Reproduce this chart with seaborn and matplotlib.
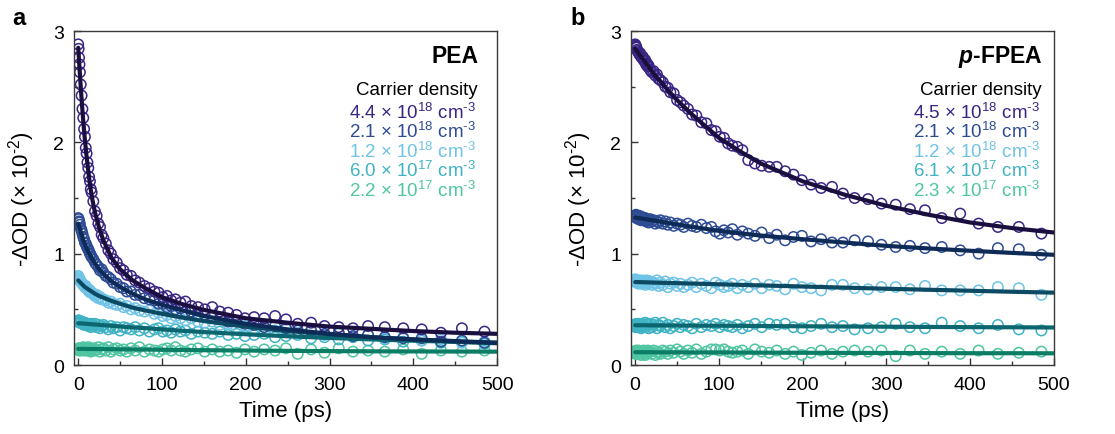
import numpy as np
import pandas as pd
import matplotlib
matplotlib.use("Agg")
import matplotlib.pyplot as plt
from matplotlib.ticker import MultipleLocator
import seaborn as sns

# ---------------- data ----------------
T = [0, 0.5, 1, 1.5, 2,
     3, 4, 5, 6, 7, 8, 9, 10,
     11, 12, 13, 14, 15, 16,
     18, 20, 22, 24, 26, 28, 30,
     33, 36, 39, 42, 46, 50, 54, 58,
     63, 68, 73, 79, 85, 91,
     96, 101, 106, 111, 116,
     122, 128, 135, 143, 151,
     160, 169, 179, 189, 199,
     210, 222, 235, 248, 262,
     278, 294, 311, 328, 346,
     366, 388, 410, 433, 458, 485]

# Panel a (PEA) measured points
pea_44e18 = [2.88, 2.84, 2.76, 2.70, 2.63,
             2.52, 2.42, 2.30, 2.22, 2.12, 2.05, 1.95, 1.90,
             1.82, 1.77, 1.69, 1.65, 1.58, 1.55,
             1.47, 1.38, 1.34, 1.27, 1.24, 1.17, 1.14,
             1.09, 1.03, 1.00, 0.95, 0.92, 0.87, 0.85, 0.81,
             0.80, 0.76, 0.74, 0.71, 0.69, 0.66,
             0.65, 0.61, 0.62, 0.58, 0.59,
             0.56, 0.57, 0.53, 0.52, 0.50,
             0.52, 0.48, 0.47, 0.45, 0.42,
             0.43, 0.42, 0.44, 0.41, 0.37,
             0.38, 0.35, 0.34, 0.33, 0.35,
             0.34, 0.33, 0.32, 0.29, 0.33, 0.30]
pea_21e18 = [1.32, 1.31, 1.29, 1.28, 1.26,
             1.23, 1.21, 1.18, 1.15, 1.13, 1.10, 1.09, 1.07,
             1.05, 1.04, 1.02, 1.00, 0.99, 0.97,
             0.95, 0.92, 0.90, 0.88, 0.85, 0.86, 0.83,
             0.80, 0.79, 0.77, 0.74, 0.73, 0.70, 0.69, 0.66,
             0.66, 0.63, 0.63, 0.60, 0.59, 0.58,
             0.55, 0.55, 0.52, 0.53, 0.50,
             0.51, 0.48, 0.48, 0.45, 0.45,
             0.43, 0.42, 0.39, 0.39, 0.37,
             0.36, 0.34, 0.35, 0.33, 0.31,
             0.31, 0.28, 0.29, 0.26, 0.27,
             0.25, 0.24, 0.24, 0.21, 0.22, 0.20]
pea_12e18 = [0.80, 0.79, 0.78, 0.77, 0.76,
             0.75, 0.74, 0.73, 0.72, 0.71, 0.70, 0.71, 0.69,
             0.68, 0.68, 0.66, 0.67, 0.65, 0.65,
             0.64, 0.62, 0.63, 0.60, 0.61, 0.59, 0.59,
             0.58, 0.56, 0.57, 0.55, 0.54, 0.55, 0.52, 0.53,
             0.50, 0.51, 0.49, 0.48, 0.49, 0.46,
             0.47, 0.44, 0.45, 0.42, 0.44,
             0.42, 0.40, 0.42, 0.39, 0.38,
             0.39, 0.36, 0.37, 0.34, 0.35,
             0.33, 0.34, 0.31, 0.32, 0.29,
             0.30, 0.27, 0.28, 0.26, 0.27,
             0.24, 0.25, 0.22, 0.23, 0.20, 0.21]
pea_60e17 = [0.40, 0.39, 0.40, 0.38, 0.39,
             0.38, 0.39, 0.37, 0.38, 0.36, 0.38, 0.37, 0.36,
             0.37, 0.35, 0.37, 0.36, 0.34, 0.37,
             0.35, 0.37, 0.34, 0.36, 0.33, 0.35, 0.36,
             0.34, 0.32, 0.35, 0.33, 0.34, 0.31, 0.34, 0.33,
             0.32, 0.34, 0.31, 0.33, 0.30, 0.32,
             0.33, 0.30, 0.31, 0.29, 0.32,
             0.30, 0.31, 0.28, 0.30, 0.29,
             0.28, 0.30, 0.27, 0.28, 0.26,
             0.27, 0.28, 0.25, 0.26, 0.27,
             0.24, 0.25, 0.23, 0.25, 0.22,
             0.23, 0.21, 0.22, 0.20, 0.21, 0.19]
pea_22e17 = [0.14, 0.15, 0.13, 0.15, 0.14,
             0.13, 0.15, 0.14, 0.16, 0.13, 0.14, 0.15, 0.13,
             0.14, 0.16, 0.13, 0.15, 0.12, 0.14,
             0.15, 0.13, 0.14, 0.16, 0.12, 0.14, 0.15,
             0.13, 0.16, 0.12, 0.14, 0.15, 0.13, 0.14, 0.12,
             0.15, 0.13, 0.16, 0.12, 0.14, 0.13,
             0.12, 0.14, 0.15, 0.13, 0.16,
             0.13, 0.12, 0.14, 0.15, 0.12,
             0.14, 0.12, 0.13, 0.11, 0.14,
             0.12, 0.14, 0.13, 0.15, 0.10,
             0.14, 0.11, 0.15, 0.12, 0.13,
             0.12, 0.14, 0.10, 0.13, 0.12, 0.13]

# Panel b (p-FPEA) measured points
fpea_45e18 = [2.88, 2.87, 2.86, 2.85, 2.83,
              2.82, 2.81, 2.79, 2.80, 2.77, 2.76, 2.77, 2.74,
              2.73, 2.74, 2.70, 2.71, 2.68, 2.69,
              2.65, 2.63, 2.64, 2.60, 2.61, 2.57, 2.56,
              2.54, 2.50, 2.49, 2.45, 2.44, 2.38, 2.36, 2.33,
              2.30, 2.25, 2.24, 2.18, 2.17, 2.11,
              2.10, 2.05, 2.04, 1.99, 1.97,
              1.96, 1.93, 1.84, 1.81, 1.79,
              1.78, 1.78, 1.74, 1.71, 1.66,
              1.62, 1.59, 1.60, 1.54, 1.50,
              1.49, 1.45, 1.44, 1.40, 1.39,
              1.32, 1.36, 1.27, 1.24, 1.24, 1.18]
fpea_21e18 = [1.34, 1.33, 1.35, 1.32, 1.34,
              1.33, 1.31, 1.34, 1.32, 1.30, 1.33, 1.31, 1.32,
              1.30, 1.32, 1.29, 1.31, 1.30, 1.28,
              1.31, 1.29, 1.30, 1.27, 1.29, 1.28, 1.30,
              1.27, 1.29, 1.26, 1.28, 1.25, 1.27, 1.26, 1.24,
              1.27, 1.25, 1.24, 1.26, 1.23, 1.24,
              1.20, 1.18, 1.21, 1.19, 1.22,
              1.17, 1.20, 1.18, 1.16, 1.19,
              1.14, 1.17, 1.12, 1.15, 1.16,
              1.11, 1.13, 1.10, 1.10, 1.12,
              1.11, 1.08, 1.06, 1.07, 1.05,
              1.06, 1.03, 1.00, 1.05, 1.04, 0.99]
fpea_12e18 = [0.77, 0.75, 0.76, 0.74, 0.76,
              0.75, 0.73, 0.76, 0.74, 0.75, 0.73, 0.76, 0.74,
              0.75, 0.72, 0.74, 0.76, 0.73, 0.74,
              0.75, 0.72, 0.74, 0.73, 0.76, 0.71, 0.74,
              0.72, 0.75, 0.70, 0.73, 0.74, 0.71, 0.73, 0.70,
              0.72, 0.74, 0.70, 0.73, 0.71, 0.69,
              0.74, 0.72, 0.70, 0.71, 0.73,
              0.69, 0.72, 0.70, 0.73, 0.69,
              0.72, 0.71, 0.68, 0.73, 0.70,
              0.69, 0.67, 0.72, 0.72, 0.69,
              0.68, 0.70, 0.70, 0.68, 0.71,
              0.67, 0.67, 0.67, 0.70, 0.69, 0.63]
fpea_61e17 = [0.36, 0.34, 0.37, 0.35, 0.36,
              0.34, 0.37, 0.35, 0.36, 0.33, 0.37, 0.34, 0.36,
              0.35, 0.38, 0.34, 0.36, 0.37, 0.33,
              0.37, 0.34, 0.36, 0.38, 0.33, 0.36, 0.35,
              0.38, 0.34, 0.36, 0.33, 0.35, 0.37, 0.34, 0.36,
              0.35, 0.33, 0.37, 0.34, 0.36, 0.35,
              0.37, 0.34, 0.36, 0.35, 0.34,
              0.36, 0.33, 0.35, 0.37, 0.34,
              0.37, 0.36, 0.37, 0.34, 0.33,
              0.35, 0.37, 0.34, 0.35, 0.32,
              0.33, 0.34, 0.37, 0.34, 0.33,
              0.38, 0.35, 0.33, 0.36, 0.32, 0.31]
fpea_23e17 = [0.12, 0.10, 0.13, 0.11, 0.12,
              0.10, 0.13, 0.11, 0.12, 0.09, 0.12, 0.10, 0.13,
              0.11, 0.09, 0.12, 0.10, 0.13, 0.11,
              0.12, 0.10, 0.13, 0.09, 0.12, 0.11, 0.10,
              0.13, 0.12, 0.10, 0.13, 0.11, 0.14, 0.12, 0.10,
              0.13, 0.11, 0.14, 0.10, 0.12, 0.14,
              0.14, 0.13, 0.14, 0.12, 0.11,
              0.12, 0.13, 0.10, 0.14, 0.12,
              0.11, 0.13, 0.10, 0.12, 0.09,
              0.11, 0.13, 0.10, 0.12, 0.13,
              0.12, 0.13, 0.08, 0.13, 0.10,
              0.12, 0.10, 0.13, 0.10, 0.11, 0.12]

# Fit curves
FT = [0, 2, 4, 6, 8, 10, 13, 16, 20, 25, 30, 40, 50, 65, 80, 100,
      125, 150, 200, 250, 300, 350, 400, 450, 500]
fit_pea_44e18 = [2.85, 2.61, 2.39, 2.19, 2.02, 1.87, 1.68, 1.52, 1.37, 1.23, 1.12, 0.96, 0.86,
                 0.76, 0.69, 0.61, 0.545, 0.495, 0.42, 0.38, 0.345, 0.325, 0.305, 0.29, 0.28]
fit_pea_21e18 = [1.27, 1.22, 1.17, 1.12, 1.08, 1.05, 1.00, 0.96, 0.91, 0.86, 0.82, 0.75, 0.70,
                 0.64, 0.59, 0.54, 0.49, 0.44, 0.37, 0.32, 0.28, 0.25, 0.23, 0.215, 0.20]
fit_pea_12e18 = [0.76, 0.745, 0.73, 0.715, 0.70, 0.69, 0.675, 0.66, 0.64, 0.62, 0.605, 0.575, 0.55,
                 0.515, 0.49, 0.46, 0.425, 0.395, 0.345, 0.305, 0.275, 0.25, 0.23, 0.21, 0.195]
fit_pea_60e17 = [0.375, 0.374, 0.373, 0.372, 0.371, 0.37, 0.368, 0.366, 0.364, 0.361, 0.358, 0.352,
                 0.346, 0.338, 0.331, 0.32, 0.307, 0.296, 0.276, 0.258, 0.243, 0.23, 0.218, 0.208, 0.20]
fit_pea_22e17 = [0.145, 0.145, 0.145, 0.145, 0.145, 0.144, 0.144, 0.144, 0.144, 0.143, 0.143, 0.142,
                 0.141, 0.140, 0.139, 0.137, 0.135, 0.133, 0.130, 0.127, 0.125, 0.123, 0.122, 0.121, 0.12]
fit_fpea_45e18 = [2.84, 2.82, 2.80, 2.78, 2.76, 2.74, 2.71, 2.68, 2.64, 2.59, 2.55, 2.46, 2.38,
                  2.27, 2.17, 2.04, 1.92, 1.81, 1.65, 1.53, 1.43, 1.35, 1.28, 1.23, 1.19]
fit_fpea_21e18 = [1.325, 1.323, 1.32, 1.318, 1.315, 1.313, 1.309, 1.305, 1.30, 1.294, 1.288, 1.275,
                  1.262, 1.245, 1.228, 1.205, 1.183, 1.163, 1.13, 1.10, 1.07, 1.047, 1.026, 1.007, 0.99]
fit_fpea_12e18 = [0.745, 0.745, 0.745, 0.744, 0.744, 0.743, 0.743, 0.742, 0.741, 0.74, 0.739, 0.737,
                  0.735, 0.732, 0.729, 0.725, 0.72, 0.715, 0.705, 0.695, 0.685, 0.676, 0.667, 0.658, 0.65]
fit_fpea_61e17 = [0.357, 0.357, 0.357, 0.357, 0.357, 0.357, 0.357, 0.356, 0.356, 0.356, 0.356, 0.355,
                  0.355, 0.354, 0.353, 0.353, 0.352, 0.35, 0.348, 0.346, 0.344, 0.342, 0.34, 0.339, 0.337]
fit_fpea_23e17 = [0.115, 0.115, 0.115, 0.115, 0.115, 0.115, 0.115, 0.115, 0.115, 0.114, 0.114, 0.114,
                  0.114, 0.113, 0.113, 0.113, 0.112, 0.111, 0.11, 0.109, 0.108, 0.107, 0.106, 0.106, 0.105]

labels_pea = ["4.4", "2.1", "1.2", "6.0", "2.2"]
labels_fpea = ["4.5", "2.1", "1.2", "6.1", "2.3"]
exps = ["18", "18", "18", "17", "17"]

# ---------------- style ----------------
data_colors = ["#3b2584", "#2e4c94", "#6ec3e6", "#3fb3c3", "#4fc5a2"]
fit_colors = ["#1b0f3f", "#0e2a57", "#0b4a62", "#0b6670", "#0a7d64"]

sns.set_theme(style="ticks")
plt.rcParams["font.family"] = ["Liberation Sans", "DejaVu Sans"]
plt.rcParams["mathtext.fontset"] = "custom"
plt.rcParams["mathtext.rm"] = "Liberation Sans"
plt.rcParams["mathtext.it"] = "Liberation Sans:italic"
plt.rcParams["mathtext.bf"] = "Liberation Sans:bold"
plt.rcParams["mathtext.bfit"] = "Liberation Sans:bold:italic"

fig = plt.figure(figsize=(11.15, 4.35), dpi=100)
ax_a = fig.add_axes([0.0664, 0.1586, 0.3794, 0.7678])
ax_b = fig.add_axes([0.5659, 0.1586, 0.3794, 0.7678])

panels = [
    (ax_a, [pea_44e18, pea_21e18, pea_12e18, pea_60e17, pea_22e17],
     [fit_pea_44e18, fit_pea_21e18, fit_pea_12e18, fit_pea_60e17, fit_pea_22e17],
     labels_pea, "PEA", 0.955, "a", 0.011),
    (ax_b, [fpea_45e18, fpea_21e18, fpea_12e18, fpea_61e17, fpea_23e17],
     [fit_fpea_45e18, fit_fpea_21e18, fit_fpea_12e18, fit_fpea_61e17, fit_fpea_23e17],
     labels_fpea, r"$\mathbfit{p}$-FPEA", 0.972, "b", 0.512),
]

for ax, series, fits, labs, title, xr, letter, lx in panels:
    # data points (open circles)
    for i in reversed(range(5)):
        df = pd.DataFrame({"t": T, "y": series[i]})
        sns.scatterplot(data=df, x="t", y="y", ax=ax, color=data_colors[i],
                        s=56, linewidth=1.1, legend=False, zorder=2)
        coll = ax.collections[-1]
        coll.set_facecolor("none")
        coll.set_edgecolor(data_colors[i])
        coll.set_linewidth(1.1)
    # fit lines
    for i in reversed(range(5)):
        dff = pd.DataFrame({"t": FT, "y": fits[i]})
        sns.lineplot(data=dff, x="t", y="y", ax=ax, color=fit_colors[i],
                     lw=3.0, legend=False, zorder=3, sort=False)

    ax.set_xlim(-5, 500)
    ax.set_ylim(0, 3)
    ax.xaxis.set_major_locator(MultipleLocator(100))
    ax.xaxis.set_minor_locator(MultipleLocator(50))
    ax.yaxis.set_major_locator(MultipleLocator(1))
    ax.yaxis.set_minor_locator(MultipleLocator(0.5))
    ax.tick_params(which="both", direction="in", top=False, right=False,
                   color="#333333", width=1.0, labelsize=14, labelcolor="black")
    ax.tick_params(which="major", length=5)
    ax.tick_params(which="minor", length=3)
    ax.tick_params(axis="x", which="major", pad=8)
    ax.tick_params(axis="y", which="major", pad=7)
    for sp in ax.spines.values():
        sp.set_visible(True)
        sp.set_color("#3a3a3a")
        sp.set_linewidth(1.0)
    ax.set_xlabel("Time (ps)", fontsize=16, color="black")
    ax.set_ylabel(r"-$\Delta$OD (× 10$^{\text{-}2}$)", fontsize=16, color="black")
    ax.xaxis.set_label_coords(0.5, -0.105)
    ax.yaxis.set_label_coords(-0.087, 0.5)

    # in-plot legend
    ax.text(xr, 0.906, title, transform=ax.transAxes, ha="right", va="baseline",
            fontsize=16.5, fontweight="bold", color="black")
    ax.text(xr - 0.002, 0.811, "Carrier density", transform=ax.transAxes, ha="right",
            va="baseline", fontsize=13.5, color="black")
    for i in range(5):
        ax.text(xr - 0.004, 0.741 - 0.0585 * i,
                labs[i] + " × 10$^{" + exps[i] + "}$ cm$^{\\text{-}3}$",
                transform=ax.transAxes, ha="right", va="baseline",
                fontsize=13.5, color=data_colors[i])

    fig.text(lx, 0.943, letter, ha="left", va="baseline", fontsize=17,
             fontweight="bold", color="black")

fig.savefig("out.png", dpi=100)
